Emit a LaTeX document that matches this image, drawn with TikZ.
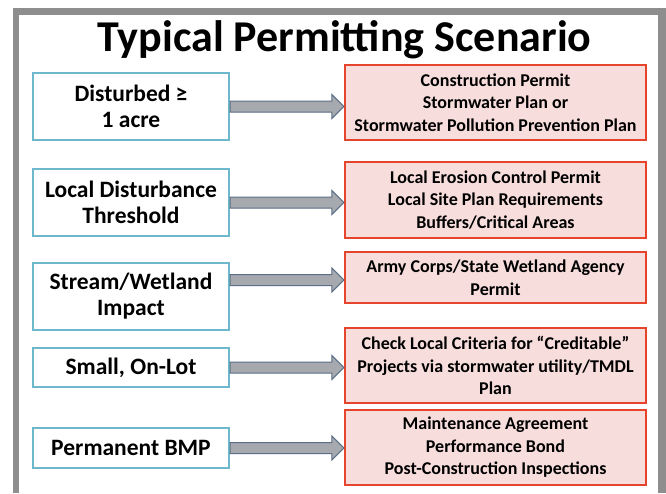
\documentclass[tikz,border=0pt]{standalone}
\usepackage{fontspec}
\setmainfont{Carlito}
\usetikzlibrary{calc}

\definecolor{framegray}{HTML}{8E8E8E}
\definecolor{triggerblue}{HTML}{6DB8CC}
\definecolor{permitred}{HTML}{E5452C}
\definecolor{permitpink}{HTML}{F7DEDC}
\definecolor{arrowgray}{HTML}{A6A9AE}
\definecolor{arrowedge}{HTML}{5B6F88}

\tikzset{
  trigger/.style={draw=triggerblue, line width=2pt, fill=white, minimum width=196pt,
    inner sep=0pt, align=center, font=\bfseries\fontsize{23.5}{26}\selectfont},
  permit/.style={draw=permitred, line width=2.4pt, fill=permitpink, minimum width=301pt,
    minimum height=75pt, inner sep=0pt, align=center, font=\bfseries\fontsize{18}{22.5}\selectfont},
}

% block arrow: starts at the height of #1, tip at the x of #2
\newcommand{\permitarrow}[2]{%
  \draw[draw=arrowedge, fill=arrowgray, line width=1pt]
    let \p1=(#1), \p2=(#2) in
    (\x1,\y1+5.5pt) -- (\x2-12pt,\y1+5.5pt) -- (\x2-12pt,\y1+12pt) -- (\x2,\y1)
    -- (\x2-12pt,\y1-12pt) -- (\x2-12pt,\y1-5.5pt) -- (\x1,\y1-5.5pt) -- cycle;}

\begin{document}
\begin{tikzpicture}[x=1pt,y=-1pt]
      \useasboundingbox (0,0) rectangle (666,493);
      \fill[white] (0,0) rectangle (666,493);
      % frame
      \fill[framegray] (13,8) rectangle (666,493);
      \fill[white] (19,15) rectangle (658,493);

      \node[font=\bfseries\fontsize{44}{44}\selectfont, anchor=base] (title) at (344.5,51) {Typical Permitting Scenario};

      % what triggers a permit
      \node[trigger, minimum height=67pt] (disturbed) at (131,106.5) {Disturbed ≥\\1 acre};
      \node[trigger, minimum height=67pt] (threshold) at (131,202.5) {Local Disturbance\\Threshold};
      \node[trigger, minimum height=67pt] (stream) at (131,296.5) {Stream/Wetland\\Impact};
      \node[trigger, minimum height=39pt] (onlot) at (131,367.5) {Small, On-Lot};
      \node[trigger, minimum height=40pt] (bmp) at (131,448) {Permanent BMP};

      % what is required
      \node[permit] (construction) at (495.5,102.5) {Construction Permit\\Stormwater Plan or\\Stormwater Pollution Prevention Plan};
      \node[permit, minimum height=76pt] (erosion) at (495.5,200) {Local Erosion Control Permit\\Local Site Plan Requirements\\Buffers/Critical Areas};
      \node[permit, minimum height=51pt] (wetland) at (495.5,277.5) {Army Corps/State Wetland Agency\\Permit};
      \node[permit] (creditable) at (495.5,365.5) {Check Local Criteria for “Creditable”\\Projects via stormwater utility/TMDL\\Plan};
      \node[permit] (maintenance) at (495.5,447.5) {Maintenance Agreement\\Performance Bond\\Post-Construction Inspections};

      \permitarrow{disturbed.east}{construction.west}
      \permitarrow{threshold.east}{erosion.west}
      \permitarrow{$(wetland.west -| stream.east)+(0,2.5)$}{wetland.west}
      \permitarrow{onlot.east}{creditable.west}
      \permitarrow{bmp.east}{maintenance.west}
    \end{tikzpicture}
\end{document}
